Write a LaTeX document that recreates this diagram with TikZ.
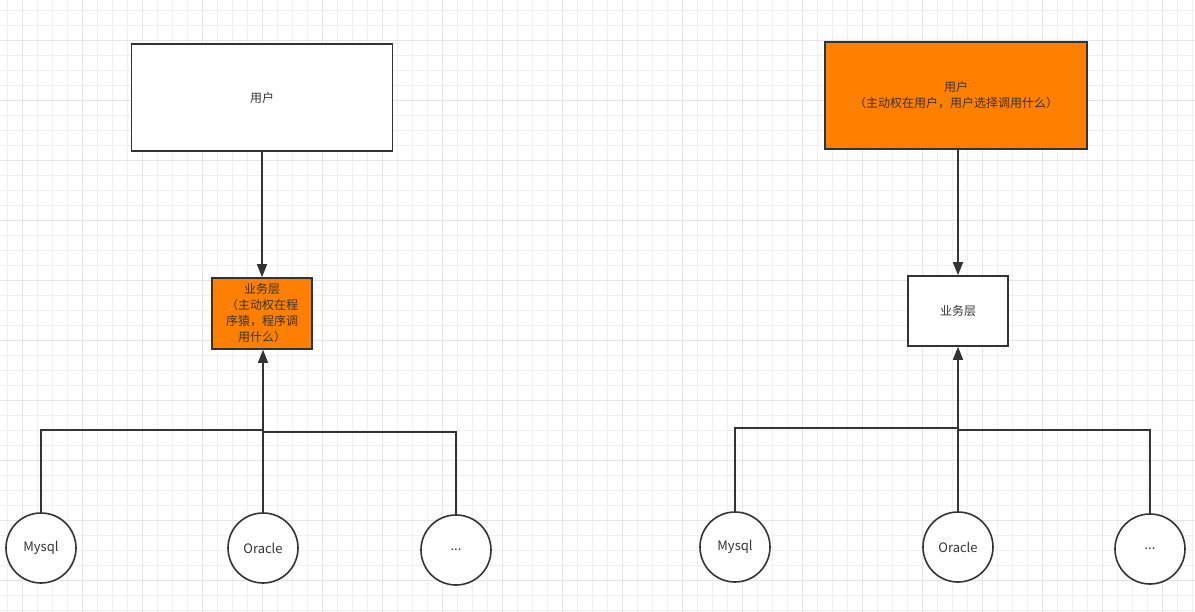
\documentclass[tikz,border=0pt]{standalone}
\usepackage{fontspec}
\setmainfont{Noto Sans CJK SC}
\usetikzlibrary{arrows.meta}
\definecolor{edge}{HTML}{333333}
\definecolor{txt}{HTML}{333333}
\definecolor{orng}{HTML}{FF8000}
\definecolor{gridminor}{HTML}{F0F0F0}
\definecolor{gridmajor}{HTML}{E4E4E4}
\tikzset{
  box/.style={draw=edge, line width=1.6pt, rectangle, inner sep=0pt, text=txt, align=center, font=\fontsize{12}{16}\selectfont},
  dbnode/.style={draw=edge, line width=1.6pt, circle, minimum size=70pt, inner sep=0pt, fill=white, text=txt, font=\fontsize{13}{15}\selectfont},
  conn/.style={draw=edge, line width=1.4pt},
  arr/.style={conn, -{Triangle[length=13pt, width=10pt]}},
}
\begin{document}
\begin{tikzpicture}[x=1pt, y=-1pt]
\useasboundingbox (0,0) rectangle (1195,612);
\fill[white] (0,0) rectangle (1195,612);
% grid
\foreach \gx in {7,22,...,1195} \draw[gridminor, line width=0.8pt] (\gx,0) -- (\gx,612);
\foreach \gy in {10,25,...,612} \draw[gridminor, line width=0.8pt] (0,\gy) -- (1195,\gy);
\foreach \gx in {22,82,...,1195} \draw[gridmajor, line width=0.9pt] (\gx,0) -- (\gx,612);
\foreach \gy in {40,100,...,612} \draw[gridmajor, line width=0.9pt] (0,\gy) -- (1195,\gy);

% left diagram
\node[box, fill=white, minimum width=261pt, minimum height=107pt] (userL) at (262,97.5) {用户};
\node[box, fill=orng, minimum width=100pt, minimum height=71pt] (bizL) at (262,313.5) {业务层\\（主动权在程\\序猿，程序调\\用什么）};
\node[dbnode] (mysqlL) at (41,548) {Mysql};
\node[dbnode] (oracleL) at (263,548) {Oracle};
\node[dbnode] (dotsL) at (456,550) {...};
\coordinate (jL) at (262,430);
\coordinate (jL2) at (262,432);
\draw[arr] (userL.south) -- (bizL.north);
\draw[conn] (mysqlL.north) |- (jL);
\draw[conn] (dotsL.north) |- (jL2);
\draw[arr] (oracleL.north) -- (oracleL.north |- bizL.south);

% right diagram
\node[box, fill=orng, minimum width=262pt, minimum height=107pt] (userR) at (956,95.5) {用户\\（主动权在用户，用户选择调用什么）};
\node[box, fill=white, minimum width=100pt, minimum height=70pt] (bizR) at (958,311) {业务层};
\node[dbnode] (mysqlR) at (735,547) {Mysql};
\node[dbnode] (oracleR) at (958,547) {Oracle};
\node[dbnode] (dotsR) at (1150,549) {...};
\coordinate (jR) at (958,428);
\coordinate (jR2) at (958,430);
\draw[arr] (userR.south -| bizR.north) -- (bizR.north);
\draw[conn] (mysqlR.north) |- (jR);
\draw[conn] (dotsR.north) |- (jR2);
\draw[arr] (oracleR.north) -- (bizR.south);
\end{tikzpicture}
\end{document}
